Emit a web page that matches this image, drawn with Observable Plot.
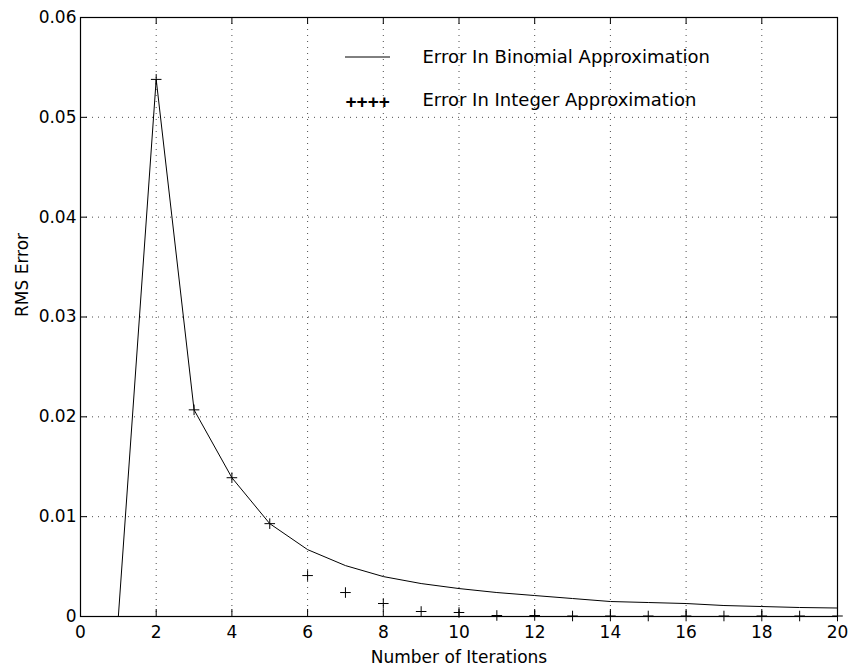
<!DOCTYPE html>
<html><head><meta charset="utf-8">
<script src="https://cdn.jsdelivr.net/npm/d3@7"></script>
<script src="https://cdn.jsdelivr.net/npm/@observablehq/plot@0.6"></script>
<style>
body{margin:0;background:#fff}
#chart{width:854px;height:670px}
</style>
</head><body><div id="chart"></div>
<script>
const iterations = [1,2,3,4,5,6,7,8,9,10,11,12,13,14,15,16,17,18,19,20];
const binomialError = [0,0.0538,0.0207,0.0139,0.0093,0.0067,0.0051,0.0040,0.0033,0.0028,0.0024,0.0021,0.0018,0.0015,0.0014,0.0013,0.0011,0.0010,0.0009,0.00085];
const integerIterations = [2,3,4,5,6,7,8,9,10,11,12,13,14,15,16,17,18,19,20];
const integerError = [0.0538,0.0207,0.0139,0.0093,0.0041,0.0024,0.0013,0.0005,0.0004,0.0001,0.0001,0.00005,0.00005,0.00005,0.00005,0.00005,0.00005,0.00005,0.00005];
const xTicks = [0,2,4,6,8,10,12,14,16,18,20];
const yTicks = [0,0.01,0.02,0.03,0.04,0.05,0.06];
const legendLabels = ["Error In Binomial Approximation","Error In Integer Approximation"];
const legendMarker = "++++";
const xLabel = "Number of Iterations";
const yLabel = "RMS Error";

const W = 854, H = 670, mL = 80, mR = 17, mT = 17, mB = 54;
const xDom = [0, 20], yDom = [0, 0.06];
const tickPx = 7;
const tyLen = (yDom[1] - yDom[0]) * tickPx / (H - mT - mB);
const txLen = (xDom[1] - xDom[0]) * tickPx / (W - mL - mR);

const binomial = iterations.map((x, i) => ({x, y: binomialError[i]}));
const integer = integerIterations.map((x, i) => ({x, y: integerError[i]}));

const font = "'DejaVu Sans', sans-serif";
const grid = {stroke: "#000", strokeOpacity: 0.7, strokeDasharray: "1,5", strokeWidth: 1};

const plot = Plot.plot({
  width: W, height: H,
  marginLeft: mL, marginRight: mR, marginTop: mT, marginBottom: mB,
  style: {fontFamily: font, fontSize: "17px", color: "#000", background: "#fff"},
  x: {domain: xDom, ticks: xTicks, tickSize: 0, tickPadding: 9, label: null, tickFormat: d => String(d)},
  y: {domain: yDom, ticks: yTicks, tickSize: 0, tickPadding: 4, label: null, tickFormat: d => d === 0 ? "0" : d.toFixed(2)},
  marks: [
    Plot.ruleX(xTicks.slice(1, -1), grid),
    Plot.ruleY(yTicks.slice(1, -1), grid),
    Plot.ruleX(xTicks, {y1: yDom[0], y2: yDom[0] + tyLen, stroke: "#000"}),
    Plot.ruleX(xTicks, {y1: yDom[1], y2: yDom[1] - tyLen, stroke: "#000"}),
    Plot.ruleY(yTicks, {x1: xDom[0], x2: xDom[0] + txLen, stroke: "#000"}),
    Plot.ruleY(yTicks, {x1: xDom[1], x2: xDom[1] - txLen, stroke: "#000"}),
    Plot.frame({stroke: "#000", strokeWidth: 1.2}),
    Plot.line(binomial, {x: "x", y: "y", stroke: "#000", strokeWidth: 1}),
    Plot.dot(integer, {x: "x", y: "y", symbol: "plus", r: 3.5, stroke: "#000", strokeWidth: 1}),
    Plot.text([xLabel], {frameAnchor: "bottom", lineAnchor: "middle", dy: 41, fontSize: 17, fill: "#000"}),
    Plot.text([yLabel], {frameAnchor: "left", dx: -58, rotate: -90, fontSize: 17, fill: "#000"}),
    Plot.text([legendLabels[0]], {frameAnchor: "top-left", lineAnchor: "middle", dx: 342, dy: 40, textAnchor: "start", fontSize: 18, fill: "#000"}),
    Plot.text([legendLabels[1]], {frameAnchor: "top-left", lineAnchor: "middle", dx: 342, dy: 83, textAnchor: "start", fontSize: 18, fill: "#000"}),
    Plot.text([legendMarker], {frameAnchor: "top-left", lineAnchor: "middle", dx: 265, dy: 84, textAnchor: "start", fontSize: 19, fontWeight: "bold", fontFamily: "'Liberation Sans', Arial, sans-serif", fill: "#000"})
  ]
});
document.getElementById("chart").appendChild(plot);
d3.select(plot).append("line")
  .attr("x1", 345).attr("x2", 390).attr("y1", 57).attr("y2", 57)
  .attr("stroke", "#000").attr("stroke-width", 1);
</script>
</body></html>
